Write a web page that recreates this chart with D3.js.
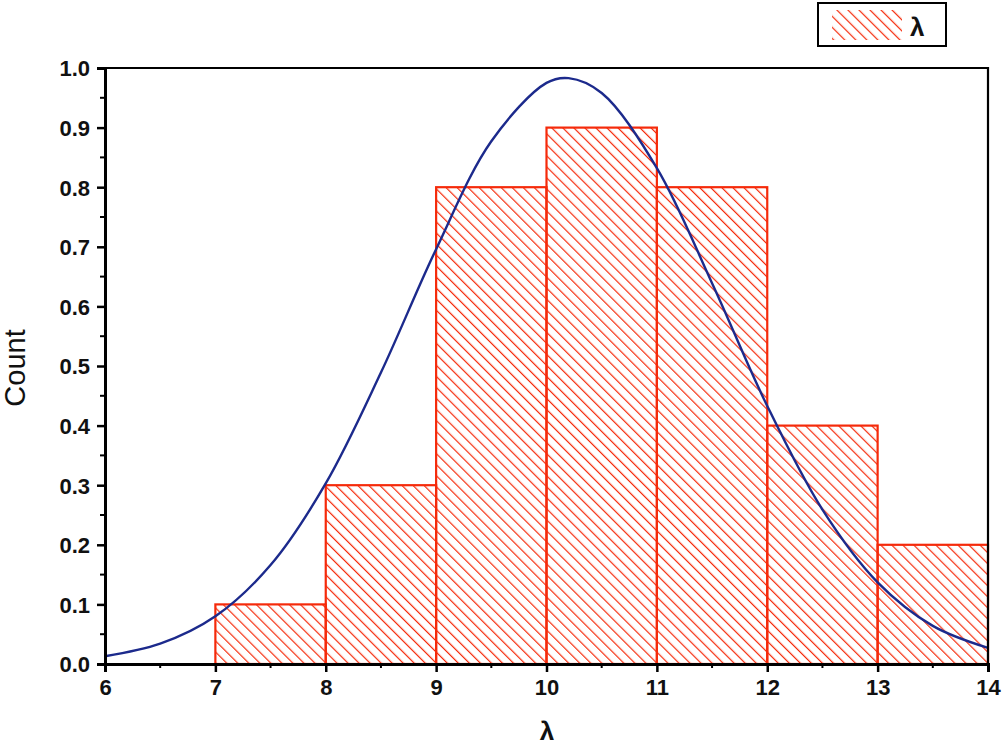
<!DOCTYPE html>
<html>
<head>
<meta charset="utf-8">
<script src="https://cdn.jsdelivr.net/npm/d3@7"></script>
<style>
  body { margin: 0; background: #fff; }
  text { font-family: "Liberation Sans", Arial, sans-serif; font-weight: bold; fill: #111; }
</style>
</head>
<body>
<svg id="chart" width="1005" height="746"></svg>
<script>
// histogram bins (left edge, right edge) and counts
const binStarts = [7, 8, 9, 10, 11, 12, 13];
const binEnds = [8, 9, 10, 11, 12, 13, 14];
const counts = [0.1, 0.3, 0.8, 0.9, 0.8, 0.4, 0.2];

// fitted curve, points
const curveX = [6, 6.5, 7, 7.5, 8, 8.5, 9, 9.5, 10, 10.2, 10.5, 11, 11.5, 12, 12.5, 13, 13.5, 14];
const curveY = [0.013, 0.034, 0.080, 0.166, 0.303, 0.489, 0.696, 0.877, 0.975, 0.983, 0.958, 0.832, 0.639, 0.433, 0.259, 0.137, 0.064, 0.027];

const xTicks = [6, 7, 8, 9, 10, 11, 12, 13, 14];
const yTicks = [0, 0.1, 0.2, 0.3, 0.4, 0.5, 0.6, 0.7, 0.8, 0.9, 1.0];

const margin = { left: 105, right: 17, top: 68, bottom: 82 };
const width = 1005 - margin.left - margin.right;
const height = 746 - margin.top - margin.bottom;
const red = "#f52a0a";

const svg = d3.select("#chart");

const defs = svg.append("defs");
defs.append("pattern")
  .attr("id", "hatch")
  .attr("patternUnits", "userSpaceOnUse")
  .attr("width", 7.8)
  .attr("height", 7.8)
  .attr("patternTransform", "rotate(-45)")
  .append("line")
  .attr("x1", 0).attr("y1", 0).attr("x2", 0).attr("y2", 7.8)
  .attr("stroke", red)
  .attr("stroke-width", 2.4);

const x = d3.scaleLinear().domain([6, 14]).range([0, width]);
const y = d3.scaleLinear().domain([0, 1]).range([height, 0]);

const g = svg.append("g").attr("transform", `translate(${margin.left},${margin.top})`);

// bars
const bins = counts.map((c, i) => ({ x0: binStarts[i], x1: binEnds[i], c }));
g.selectAll("rect.bar")
  .data(bins)
  .enter()
  .append("rect")
  .attr("class", "bar")
  .attr("x", d => x(d.x0))
  .attr("y", d => y(d.c))
  .attr("width", d => x(d.x1) - x(d.x0))
  .attr("height", d => y(0) - y(d.c))
  .attr("fill", "url(#hatch)")
  .attr("stroke", red)
  .attr("stroke-width", 2.2);

// fit curve
const pts = curveX.map((v, i) => [v, curveY[i]]);
g.append("path")
  .datum(pts)
  .attr("fill", "none")
  .attr("stroke", "#1c2a8c")
  .attr("stroke-width", 2.4)
  .attr("d", d3.line().x(d => x(d[0])).y(d => y(d[1])).curve(d3.curveCatmullRom.alpha(0.5)));

// frame (top, right)
g.append("path")
  .attr("d", `M0,0H${width}V${height}`)
  .attr("fill", "none")
  .attr("stroke", "#000")
  .attr("stroke-width", 2.2);

// minor ticks
const yMinor = d3.range(0.05, 1, 0.1);
g.selectAll("line.ymin")
  .data(yMinor)
  .enter()
  .append("line")
  .attr("x1", -5).attr("x2", 0)
  .attr("y1", d => y(d)).attr("y2", d => y(d))
  .attr("stroke", "#000").attr("stroke-width", 2);
const xMinor = d3.range(6.5, 14, 1);
g.selectAll("line.xmin")
  .data(xMinor)
  .enter()
  .append("line")
  .attr("y1", height).attr("y2", height + 4)
  .attr("x1", d => x(d)).attr("x2", d => x(d))
  .attr("stroke", "#000").attr("stroke-width", 2);

// axes
const yAxis = g.append("g")
  .call(d3.axisLeft(y).tickValues(yTicks).tickFormat(d3.format(".1f")).tickSize(8).tickPadding(7));
const xAxis = g.append("g")
  .attr("transform", `translate(0,${height})`)
  .call(d3.axisBottom(x).tickValues(xTicks).tickFormat(d3.format("d")).tickSize(8).tickPadding(7));

[xAxis, yAxis].forEach(a => {
  a.select(".domain").attr("stroke", "#000").attr("stroke-width", 3);
  a.selectAll(".tick line").attr("stroke", "#000").attr("stroke-width", 2.5);
  a.selectAll(".tick text").attr("font-size", 22).attr("font-family", "Liberation Sans, Arial, sans-serif").attr("font-weight", "bold").attr("fill", "#111");
});
yAxis.selectAll(".tick text").attr("dy", "0.36em");

// axis titles
svg.append("text")
  .attr("transform", `translate(25,${margin.top + height / 2 + 2}) rotate(-90)`)
  .attr("text-anchor", "middle")
  .attr("font-size", 29)
  .style("font-weight", "normal")
  .text("Count");

svg.append("text")
  .attr("x", 547)
  .attr("y", 740)
  .attr("text-anchor", "middle")
  .attr("font-size", 26)
  .text("λ");

// legend
const lg = svg.append("g").attr("transform", "translate(818,3)");
lg.append("rect")
  .attr("width", 128).attr("height", 43)
  .attr("fill", "#fff").attr("stroke", "#000").attr("stroke-width", 2);
lg.append("rect")
  .attr("x", 14).attr("y", 7).attr("width", 70).attr("height", 30)
  .attr("fill", "url(#hatch)");
lg.append("text")
  .attr("x", 92).attr("y", 33)
  .attr("font-size", 26)
  .text("λ");
</script>
</body>
</html>
